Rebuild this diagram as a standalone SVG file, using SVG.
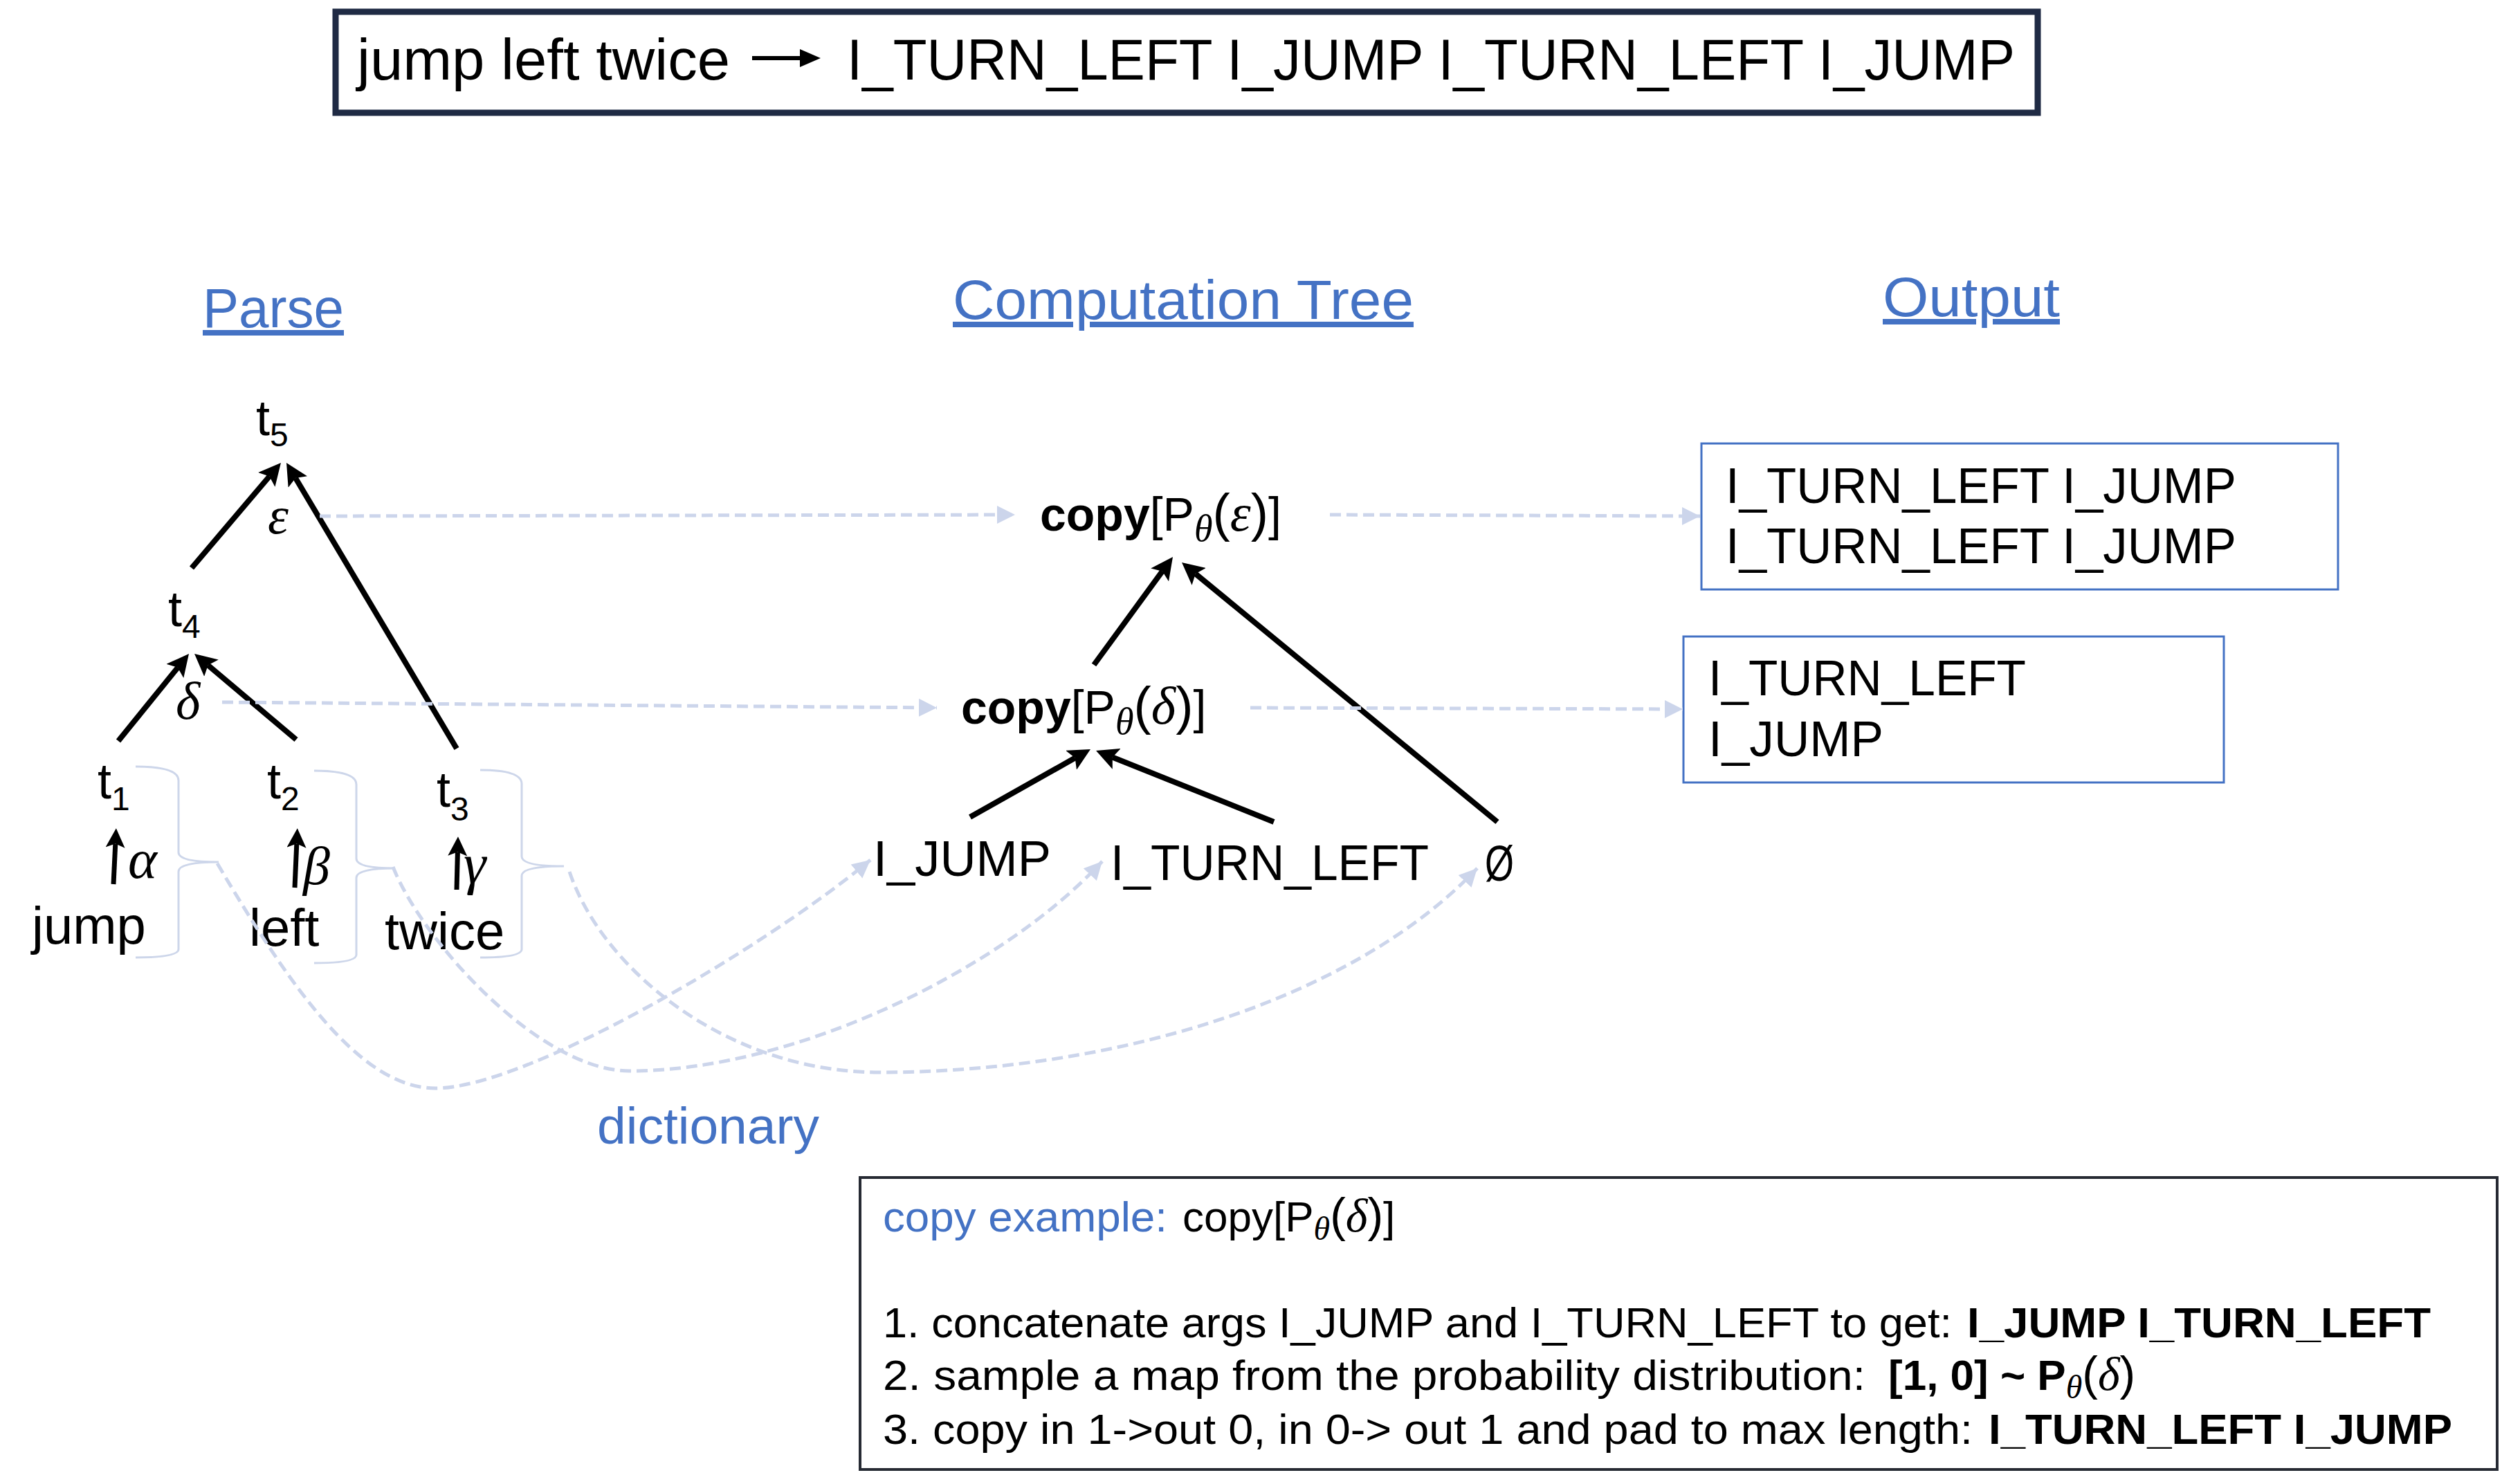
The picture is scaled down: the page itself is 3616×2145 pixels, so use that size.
<svg xmlns="http://www.w3.org/2000/svg" width="3616" height="2145" viewBox="0 0 3616 2145">
<defs>
<style>
.t{font-family:"Liberation Sans",Arial,sans-serif;fill:#000}
.b{font-weight:bold}
.g{font-family:"Liberation Serif","DejaVu Serif",serif;font-style:italic}
.blue{fill:#4472C4}
.tree{stroke:#000;stroke-width:8;fill:none;marker-end:url(#ah)}
.small{stroke-width:7}
.dash{stroke:#CCD5EB;stroke-width:5;stroke-dasharray:16 8;fill:none;marker-end:url(#lh)}
.brace{stroke:#CDD6EA;stroke-width:3;fill:none}
.obox{fill:#fff;stroke:#4472C4;stroke-width:3}
</style>
<marker id="ah" viewBox="0 0 10 10" refX="2" refY="5" markerWidth="4" markerHeight="4" orient="auto" markerUnits="strokeWidth"><path d="M0,0 L10,5 L0,10 L2,5 z" fill="#000"/></marker>
<marker id="lh" viewBox="0 0 10 10" refX="10" refY="5" markerWidth="26" markerHeight="28" orient="auto" markerUnits="userSpaceOnUse"><path d="M0,0 L10,5 L0,10 z" fill="#CCD5EB"/></marker>
</defs>
<rect width="3616" height="2145" fill="#fff"/>

<g id="header">
<rect x="485" y="17" width="2460" height="146" fill="#fff" stroke="#1F2A44" stroke-width="9"/>
<text class="t" x="516" y="115" font-size="84" textLength="539" lengthAdjust="spacingAndGlyphs">jump left twice</text>
<line x1="1087" y1="84" x2="1160" y2="84" stroke="#000" stroke-width="6"/>
<polygon points="1186,84 1156,71 1156,97" fill="#000"/>
<text class="t" x="1224" y="115" font-size="84" textLength="1688" lengthAdjust="spacingAndGlyphs">I_TURN_LEFT I_JUMP I_TURN_LEFT I_JUMP</text>
</g>

<g id="titles">
<text class="t blue" x="293" y="473" font-size="80" text-decoration="underline" textLength="204" lengthAdjust="spacingAndGlyphs">Parse</text>
<text class="t blue" x="1377" y="461" font-size="80" text-decoration="underline" textLength="666" lengthAdjust="spacingAndGlyphs">Computation Tree</text>
<text class="t blue" x="2721" y="457" font-size="80" text-decoration="underline" textLength="256" lengthAdjust="spacingAndGlyphs">Output</text>
</g>

<g id="parse-t5"><text class="t" x="370" y="629" font-size="72">t<tspan font-size="48" dy="16">5</tspan></text></g>
<g id="parse-t4"><text class="t" x="243" y="905" font-size="72">t<tspan font-size="48" dy="17">4</tspan></text></g>
<g id="parse-t1"><text class="t" x="141" y="1154" font-size="72">t<tspan font-size="48" dy="17">1</tspan></text></g>
<g id="parse-t2"><text class="t" x="386" y="1154" font-size="72">t<tspan font-size="48" dy="17">2</tspan></text></g>
<g id="parse-t3"><text class="t" x="631" y="1166" font-size="72">t<tspan font-size="48" dy="20">3</tspan></text></g>
<g id="label-eps"><text class="t g" x="387" y="771" font-size="76">ε</text></g>
<g id="label-delta"><text class="t g" x="254" y="1039" font-size="76">δ</text></g>
<g id="label-alpha"><text class="t g" x="185" y="1269" font-size="80">α</text></g>
<g id="label-beta"><text class="t g" x="438" y="1278" font-size="78">β</text></g>
<g id="label-gamma"><text class="t g" x="670" y="1276" font-size="82">γ</text></g>
<g id="word-jump"><text class="t" x="46" y="1364" font-size="76">jump</text>
<path class="brace" d="M196,1108 Q258,1108 258,1128 L258,1232 Q258,1246 316,1246 Q258,1246 258,1260 L258,1372 Q258,1384 196,1384"/></g>
<g id="word-left"><text class="t" x="360" y="1367" font-size="76">left</text>
<path class="brace" d="M454,1114 Q515,1114 515,1134 L515,1241 Q515,1255 571,1255 Q515,1255 515,1269 L515,1380 Q515,1392 454,1392"/></g>
<g id="word-twice"><text class="t" x="556" y="1372" font-size="76">twice</text>
<path class="brace" d="M694,1113 Q754,1113 754,1133 L754,1238 Q754,1252 815,1252 Q754,1252 754,1266 L754,1372 Q754,1384 694,1384"/></g>

<g id="copy-eps"><text class="t" x="1503" y="767" font-size="68"><tspan class="b">copy</tspan>[P<tspan class="g" font-size="54" dy="15">θ</tspan><tspan dy="-15" font-size="76">(</tspan><tspan class="g" font-size="76">ε</tspan><tspan font-size="76">)</tspan>]</text></g>
<g id="copy-delta"><text class="t" x="1389" y="1046" font-size="68"><tspan class="b">copy</tspan>[P<tspan class="g" font-size="54" dy="15">θ</tspan><tspan dy="-15" font-size="76">(</tspan><tspan class="g" font-size="76">δ</tspan><tspan font-size="76">)</tspan>]</text></g>
<g id="leaf-jump"><text class="t" x="1262" y="1266" font-size="72" textLength="257" lengthAdjust="spacingAndGlyphs">I_JUMP</text></g>
<g id="leaf-turn"><text class="t" x="1605" y="1272" font-size="72" textLength="460" lengthAdjust="spacingAndGlyphs">I_TURN_LEFT</text></g>
<g id="leaf-empty"><text class="t" x="2146" y="1273" font-size="72" textLength="42" lengthAdjust="spacingAndGlyphs">Ø</text></g>

<g id="out-1"><rect class="obox" x="2459" y="641" width="920" height="211"/>
<text class="t" x="2494" y="727" font-size="72" textLength="738" lengthAdjust="spacingAndGlyphs">I_TURN_LEFT I_JUMP</text>
<text class="t" x="2494" y="814" font-size="72" textLength="738" lengthAdjust="spacingAndGlyphs">I_TURN_LEFT I_JUMP</text></g>
<g id="out-2"><rect class="obox" x="2433" y="920" width="781" height="211"/>
<text class="t" x="2469" y="1005" font-size="72" textLength="459" lengthAdjust="spacingAndGlyphs">I_TURN_LEFT</text>
<text class="t" x="2469" y="1093" font-size="72" textLength="253" lengthAdjust="spacingAndGlyphs">I_JUMP</text></g>

<g id="dictionary"><text class="t blue" x="863" y="1653" font-size="75" textLength="321" lengthAdjust="spacingAndGlyphs">dictionary</text></g>

<g id="example">
<rect x="1243" y="1702" width="2366" height="422" fill="#fff" stroke="#262A33" stroke-width="4"/>
<text class="t blue" x="1276" y="1780" font-size="62" textLength="411" lengthAdjust="spacingAndGlyphs">copy example:</text>
<text class="t" x="1709" y="1780" font-size="62">copy[P<tspan class="g" font-size="48" dy="12">θ</tspan><tspan dy="-12" font-size="68">(</tspan><tspan class="g" font-size="68">δ</tspan><tspan font-size="68">)</tspan>]</text>
<text class="t" x="1276" y="1933" font-size="62" textLength="1545" lengthAdjust="spacingAndGlyphs">1. concatenate args I_JUMP and I_TURN_LEFT to get:</text>
<text class="t b" x="2843" y="1933" font-size="62" textLength="670" lengthAdjust="spacingAndGlyphs">I_JUMP I_TURN_LEFT</text>
<text class="t" x="1276" y="2009" font-size="62" textLength="1420" lengthAdjust="spacingAndGlyphs">2. sample a map from the probability distribution:</text>
<text class="t" x="2729" y="2009" font-size="62"><tspan class="b">[1, 0] ~ P</tspan><tspan class="g" font-size="48" dy="12">θ</tspan><tspan dy="-12" font-size="68">(</tspan><tspan class="g" font-size="68">δ</tspan><tspan font-size="68">)</tspan></text>
<text class="t" x="1276" y="2087" font-size="62" textLength="1575" lengthAdjust="spacingAndGlyphs">3. copy in 1-&gt;out 0, in 0-&gt; out 1 and pad to max length:</text>
<text class="t b" x="2874" y="2087" font-size="62" textLength="670" lengthAdjust="spacingAndGlyphs">I_TURN_LEFT I_JUMP</text>
</g>

<g id="connectors">
<line class="tree" x1="277" y1="821" x2="389.4" y2="688.5"/>
<line class="tree" x1="660" y1="1082" x2="427.1" y2="691"/>
<line class="tree" x1="171" y1="1071" x2="256.9" y2="964.9"/>
<line class="tree" x1="428" y1="1069" x2="300.6" y2="961.5"/>
<line class="tree small" x1="164" y1="1278" x2="166.8" y2="1219.6"/>
<line class="tree small" x1="426" y1="1283" x2="428.8" y2="1219.6"/>
<line class="tree small" x1="660" y1="1286" x2="661.4" y2="1231.6"/>
<line class="tree" x1="1581" y1="961" x2="1679.9" y2="825.7"/>
<line class="tree" x1="2164" y1="1188" x2="1727.8" y2="829.3"/>
<line class="tree" x1="1402" y1="1181" x2="1553.7" y2="1095.6"/>
<line class="tree" x1="1841" y1="1188" x2="1607.8" y2="1094.5"/>
<path class="dash" d="M462,746 L1467,744"/>
<path class="dash" d="M1922,744 L2457,746"/>
<path class="dash" d="M321,1015 L1354,1023"/>
<path class="dash" d="M1807,1023 L2432,1025"/>
<path class="dash" d="M314,1248 C418,1424 520,1573 629,1573 C760,1573 1101,1373 1258,1243"/>
<path class="dash" d="M568,1253 C610,1360 780,1548 910,1548 C1150,1548 1450,1400 1593,1245"/>
<path class="dash" d="M823,1260 C870,1400 1050,1550 1271,1550 C1600,1550 1950,1450 2135,1255"/>
</g>
</svg>
